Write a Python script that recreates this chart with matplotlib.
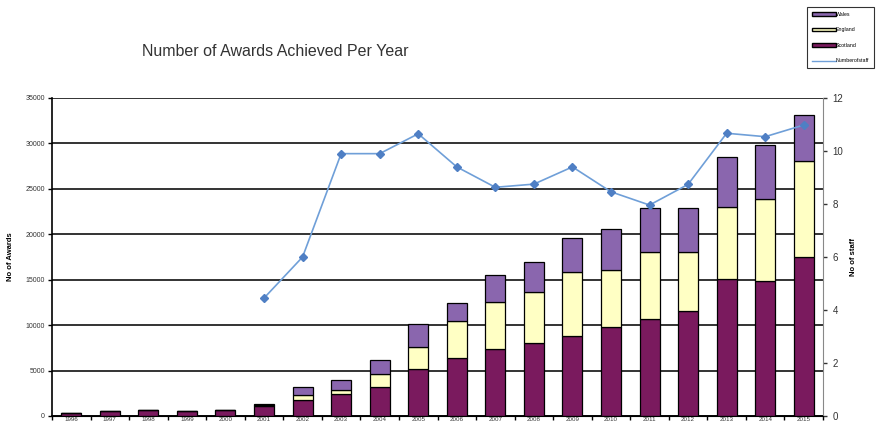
import matplotlib
matplotlib.use("Agg")
import matplotlib.pyplot as plt
import numpy as np
from matplotlib.patches import Patch
from matplotlib.lines import Line2D

plt.rcParams['font.family'] = ['Liberation Sans', 'DejaVu Sans']

years = [str(y) for y in range(1996, 2016)]
scotland = [300, 550, 700, 550, 700, 1150, 1800, 2370, 3170, 5120, 6400, 7320, 7980,
            8860, 9850, 10730, 11610, 15130, 14840, 17480]
england = [0, 0, 0, 0, 0, 50, 550, 475, 1500, 2500, 4030, 5250, 5650,
           6970, 6270, 7340, 6460, 7850, 8990, 10640]
wales = [0, 0, 0, 0, 0, 100, 850, 1100, 1540, 2530, 2020, 3000, 3270,
         3710, 4480, 4770, 4770, 5500, 6050, 4990]
staff = [np.nan, np.nan, np.nan, np.nan, np.nan, 4.45, 6.0, 9.9, 9.9, 10.65, 9.4, 8.63, 8.75,
         9.4, 8.46, 7.96, 8.74, 10.67, 10.54, 10.98]
y_ticks = [0, 5000, 10000, 15000, 20000, 25000, 30000, 35000]
staff_ticks = [0, 2, 4, 6, 8, 10, 12]

c_scot = "#7a1a5e"
c_eng = "#ffffc4"
c_wal = "#8a66ae"
c_line = "#6f9fd8"

fig = plt.figure(figsize=(8.77, 4.25), dpi=100)
ax = fig.add_axes([52/877, 1-416/425, (823-52)/877, (416-98)/425])

x = np.arange(len(years))
sc = np.array(scotland, float)
en = np.array(england, float)
wa = np.array(wales, float)
w = 0.52
ax.bar(x, sc, w, color=c_scot, edgecolor="black", linewidth=0.9, zorder=3)
ax.bar(x, en, w, bottom=sc, color=c_eng, edgecolor="black", linewidth=0.9, zorder=3)
ax.bar(x, wa, w, bottom=sc+en, color=c_wal, edgecolor="black", linewidth=0.9, zorder=3)

ax.set_xlim(-0.5, len(years)-0.5)
ax.set_ylim(0, 35000)
ax.set_yticks(y_ticks)
ax.set_yticklabels([str(v) for v in y_ticks], fontsize=5, color="#333333")
ax.yaxis.grid(True, color="#333333", linewidth=1.4, zorder=0)
ax.set_axisbelow(True)
ax.set_xticks(x)
ax.set_xticklabels(years, fontsize=4.5, color="#333333")
ax.set_xticks(np.arange(-0.5, len(years)), minor=True)
ax.tick_params(axis='x', which='major', length=0, pad=1)
ax.tick_params(axis='x', which='minor', length=3, width=1, direction='out')
ax.tick_params(axis='y', length=3, width=1, pad=2)
for s in ['top', 'right']:
    ax.spines[s].set_visible(False)
ax.spines['left'].set_linewidth(1.2)
ax.spines['bottom'].set_linewidth(1.2)
ax.set_ylabel("No of Awards", fontsize=5.5, fontweight='bold', labelpad=8)

ax2 = ax.twinx()
ax2.plot(x, staff, color=c_line, linewidth=1.2, marker='D', markersize=4,
         markerfacecolor="#4f7fc4", markeredgecolor="#4f7fc4", zorder=5)
ax2.set_ylim(0, 12)
ax2.set_yticks(staff_ticks)
ax2.set_yticklabels([str(v) for v in staff_ticks], fontsize=7, color="#333333")
ax2.tick_params(axis='y', length=3, width=1, pad=4, colors="#333333")
ax2.spines['right'].set_color("#888888")
ax2.spines['top'].set_visible(False)
ax2.spines['left'].set_visible(False)
ax2.set_ylabel("No of staff", fontsize=5.5, fontweight='bold', labelpad=5)

fig.text(275/877, 1-52/425, "Number of Awards Achieved Per Year", fontsize=11.5,
         ha='center', va='center', color="#333333")

handles = [Patch(facecolor=c_wal, edgecolor="black", label="Wales"),
           Patch(facecolor=c_eng, edgecolor="black", label="England"),
           Patch(facecolor=c_scot, edgecolor="black", label="Scotland"),
           Line2D([0], [0], color=c_line, lw=1, label="Numberofstaff")]
leg = fig.legend(handles=handles, loc='upper left', bbox_to_anchor=(807/877, 1-7/425),
                 fontsize=3.8, frameon=True, fancybox=False, edgecolor="black",
                 handlelength=4.5, handleheight=0.7, labelspacing=2.0, borderpad=0.9,
                 handletextpad=0.1, borderaxespad=0)
leg.get_frame().set_linewidth(0.8)

fig.savefig("out.png", dpi=100)
